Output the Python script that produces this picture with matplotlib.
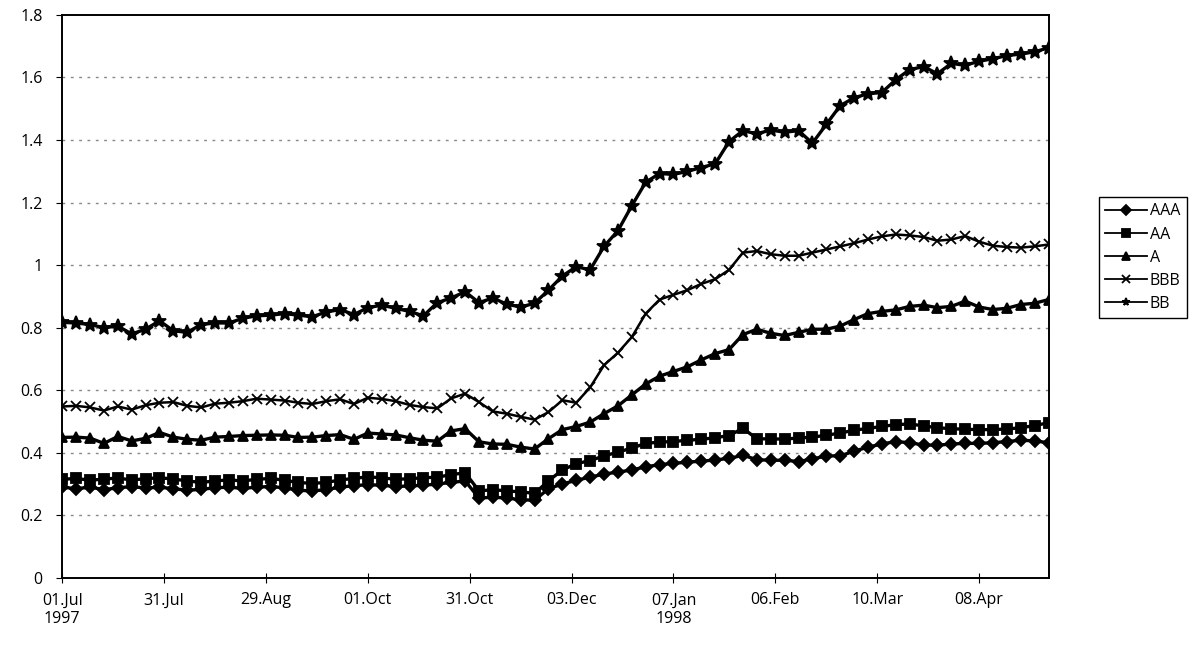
import numpy as np
import matplotlib
matplotlib.use("Agg")
from matplotlib import pyplot as plt

plt.rcParams['font.family'] = ['Open Sans', 'DejaVu Sans']

# one value every 3 trading days, 01.Jul 1997 .. end Apr 1998 (214 trading days)
step = 3
n_days = 214

aaa = [0.29, 0.285, 0.29, 0.282, 0.288, 0.292, 0.287, 0.29, 0.285, 0.28,
       0.283, 0.288, 0.29, 0.286, 0.29, 0.292, 0.288, 0.28, 0.278, 0.282,
       0.29, 0.295, 0.298, 0.296, 0.292, 0.294, 0.296, 0.3, 0.305, 0.31,
       0.255, 0.258, 0.255, 0.25, 0.248, 0.285, 0.3, 0.312, 0.322, 0.332,
       0.338, 0.345, 0.355, 0.362, 0.366, 0.37, 0.373, 0.377, 0.382, 0.392,
       0.378, 0.376, 0.376, 0.372, 0.38, 0.39, 0.39, 0.405, 0.418, 0.428,
       0.436, 0.432, 0.425, 0.424, 0.428, 0.43, 0.43, 0.432, 0.436, 0.44,
       0.438, 0.432]

aa = [0.315, 0.318, 0.312, 0.316, 0.319, 0.313, 0.317, 0.32, 0.316, 0.31,
      0.305, 0.31, 0.313, 0.31, 0.315, 0.318, 0.312, 0.305, 0.302, 0.305,
      0.313, 0.318, 0.323, 0.32, 0.315, 0.317, 0.32, 0.322, 0.33, 0.336,
      0.278, 0.282, 0.278, 0.275, 0.27, 0.31, 0.345, 0.365, 0.375, 0.39,
      0.402, 0.415, 0.43, 0.434, 0.436, 0.44, 0.443, 0.448, 0.455, 0.478,
      0.445, 0.444, 0.444, 0.447, 0.45, 0.456, 0.463, 0.472, 0.478, 0.484,
      0.49, 0.492, 0.486, 0.48, 0.477, 0.475, 0.474, 0.474, 0.476, 0.48,
      0.487, 0.496]

a = [0.449, 0.45, 0.447, 0.43, 0.452, 0.438, 0.446, 0.465, 0.45, 0.443,
     0.44, 0.45, 0.452, 0.455, 0.456, 0.457, 0.456, 0.449, 0.45, 0.455,
     0.458, 0.443, 0.463, 0.46, 0.457, 0.448, 0.44, 0.437, 0.47, 0.477,
     0.435, 0.428, 0.427, 0.418, 0.412, 0.445, 0.474, 0.484, 0.498, 0.525,
     0.55, 0.585, 0.62, 0.645, 0.66, 0.675, 0.697, 0.717, 0.73, 0.778,
     0.795, 0.782, 0.775, 0.785, 0.795, 0.795, 0.805, 0.826, 0.845, 0.852,
     0.857, 0.868, 0.872, 0.864, 0.868, 0.885, 0.866, 0.858, 0.862, 0.874,
     0.878, 0.89]

bbb = [0.548, 0.55, 0.545, 0.535, 0.548, 0.538, 0.552, 0.56, 0.562, 0.55,
       0.545, 0.557, 0.56, 0.565, 0.573, 0.57, 0.567, 0.56, 0.556, 0.565,
       0.571, 0.556, 0.576, 0.572, 0.565, 0.553, 0.546, 0.542, 0.574, 0.589,
       0.562, 0.532, 0.525, 0.515, 0.506, 0.53, 0.568, 0.56, 0.609, 0.68,
       0.72, 0.77, 0.845, 0.89, 0.905, 0.92, 0.94, 0.955, 0.985, 1.04,
       1.045, 1.035, 1.03, 1.03, 1.04, 1.05, 1.06, 1.07, 1.082, 1.092,
       1.098, 1.095, 1.09, 1.078, 1.082, 1.093, 1.075, 1.062, 1.058, 1.056,
       1.06, 1.066]

bb = [0.817, 0.815, 0.81, 0.8, 0.805, 0.78, 0.795, 0.822, 0.79, 0.785,
      0.81, 0.815, 0.815, 0.83, 0.838, 0.84, 0.845, 0.84, 0.835, 0.85,
      0.858, 0.842, 0.864, 0.872, 0.862, 0.852, 0.838, 0.88, 0.895, 0.915,
      0.88, 0.895, 0.875, 0.866, 0.878, 0.92, 0.965, 0.995, 0.985, 1.06,
      1.11, 1.19, 1.265, 1.293, 1.29, 1.3, 1.312, 1.324, 1.395, 1.43,
      1.42, 1.432, 1.425, 1.43, 1.39, 1.45, 1.51, 1.535, 1.548, 1.552,
      1.593, 1.625, 1.635, 1.612, 1.645, 1.639, 1.652, 1.66, 1.67, 1.675,
      1.682, 1.695]

tick_labels = ['01.Jul\n1997', '31.Jul', '29.Aug', '01.Oct', '31.Oct',
               '03.Dec', '07.Jan\n1998', '06.Feb', '10.Mar', '08.Apr']
tick_every = 22

# name, values, marker, marker size, line width
series = [('AAA', aaa, 'D', 6, 2.4), ('AA', aa, 's', 6.5, 2.4),
          ('A', a, '^', 7.5, 2.4), ('BBB', bbb, 'x', 7, 1.8),
          ('BB', bb, '*', 10, 2.4)]

fig = plt.figure(figsize=(11.97, 6.5), dpi=100)
ax = fig.add_axes([0.052, 0.111, 0.824, 0.866])

for name, vals, mk, ms, lw in series:
    x = np.arange(len(vals)) * step
    ax.plot(x, vals, color='black', lw=lw, marker=mk, markersize=ms,
            markeredgewidth=1.3, markerfacecolor='black', label=name)

ax.set_xlim(0, n_days - 1)
ax.set_ylim(0, 1.8)
ax.set_yticks(np.arange(0, 1.81, 0.2))
ax.set_yticklabels(['0', '0.2', '0.4', '0.6', '0.8', '1', '1.2', '1.4', '1.6', '1.8'])
ax.set_xticks(np.arange(len(tick_labels)) * tick_every)
ax.set_xticklabels(tick_labels)

for yv in np.arange(0.2, 1.7, 0.2):
    ax.axhline(yv, color='#888888', lw=1.0, ls=(0, (2, 4)), zorder=0)

for sp in ax.spines.values():
    sp.set_color('black')
    sp.set_linewidth(1.4)
ax.tick_params(axis='x', direction='inout', length=7, pad=7, labelsize=11.5)
ax.tick_params(axis='y', direction='out', length=4, pad=10, labelsize=11.5)

leg = ax.legend(loc='upper left', bbox_to_anchor=(0.918, 0.697),
                bbox_transform=fig.transFigure, fancybox=False,
                edgecolor='black', fontsize=11.5, handlelength=2.6,
                handletextpad=0.2, labelspacing=0.45, borderpad=0.4,
                borderaxespad=0, framealpha=1)
leg.get_frame().set_linewidth(1.0)
for h in leg.legend_handles:
    h.set_linewidth(1.3)
    h.set_markersize(5.5)

fig.savefig('out.png', dpi=100)
